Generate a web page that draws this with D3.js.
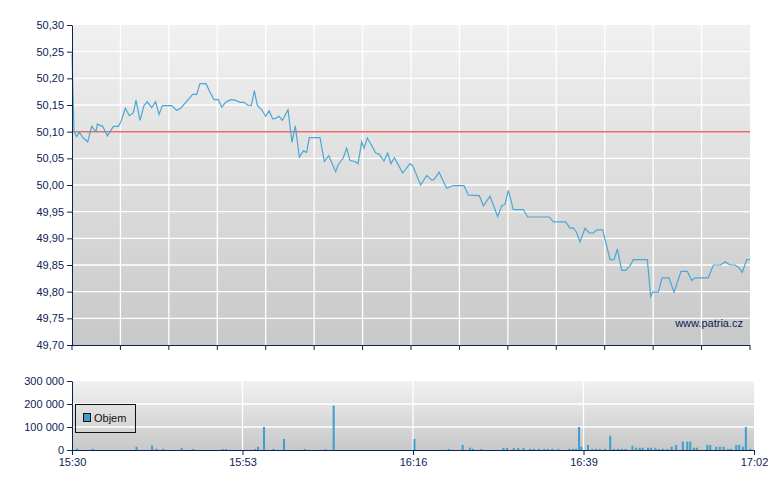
<!DOCTYPE html>
<html><head><meta charset="utf-8">
<script src="https://cdn.jsdelivr.net/npm/d3@7"></script>
<style>body{margin:0;background:#fff}text{font-family:"Liberation Sans",Arial,sans-serif}</style>
</head><body><div id="chart"></div>
<script>
// minutes after 15:30 and price
const priceMin = [0,0.27,0.63,0.99,1.54,2.13,2.67,3.26,3.44,4.16,4.8,5.61,6.29,6.65,7.24,7.78,8.32,8.68,9.23,9.77,10.22,10.81,11.35,11.81,12.26,12.85,13.52,14.2,14.75,15.56,16.37,16.92,17.37,18.18,18.73,19.27,19.86,20.31,20.85,21.53,22.12,22.8,23.34,23.84,24.33,24.74,25.15,25.74,26.28,26.73,27.23,27.64,28.09,28.54,29.31,29.85,30.3,30.85,31.39,31.84,32.2,33.65,34.24,34.83,35.78,36.14,36.82,37.27,37.72,38.36,38.81,39.31,39.62,40.07,40.66,41.21,41.66,42.34,42.83,43.29,43.74,44.15,44.87,45.87,46.23,47.31,48.13,48.81,49.12,49.8,50.84,51.75,52.43,53.19,53.78,55.27,55.82,56.72,57.76,58.31,58.76,59.21,59.89,61.25,61.83,64.77,65.32,66.99,67.58,68.03,68.48,68.93,69.61,70.16,70.74,71.2,72.01,73.01,73.55,74,74.59,75.13,75.72,76.17,78.07,78.52,78.79,79.56,80.06,81.01,81.69,82.64,83.5,84.09,84.54,86.35,87.03,88.02,88.61,89.29,89.97,90.42,90.96,91.55,92];
const priceVal = [50.245,50.10,50.091,50.099,50.088,50.081,50.11,50.10,50.114,50.11,50.092,50.11,50.11,50.119,50.144,50.13,50.135,50.159,50.121,50.149,50.156,50.145,50.156,50.132,50.149,50.149,50.149,50.14,50.144,50.157,50.17,50.17,50.19,50.19,50.174,50.16,50.16,50.146,50.155,50.16,50.159,50.155,50.155,50.15,50.149,50.177,50.149,50.141,50.129,50.139,50.124,50.125,50.129,50.121,50.141,50.08,50.111,50.052,50.064,50.061,50.089,50.089,50.044,50.055,50.025,50.039,50.051,50.069,50.046,50.044,50.04,50.081,50.069,50.088,50.074,50.06,50.058,50.045,50.06,50.04,50.051,50.041,50.0225,50.04,50.036,50.0,50.018,50.009,50.01,50.024,49.994,49.999,49.999,49.999,49.981,49.98,49.961,49.979,49.941,49.961,49.964,49.99,49.954,49.954,49.94,49.94,49.931,49.931,49.919,49.919,49.911,49.893,49.919,49.91,49.91,49.916,49.916,49.86,49.86,49.88,49.84,49.84,49.849,49.86,49.86,49.791,49.799,49.799,49.826,49.826,49.799,49.838,49.838,49.821,49.826,49.826,49.85,49.85,49.856,49.85,49.85,49.846,49.836,49.86,49.86];
const refPrice = 50.10;
const volMin = [0.7,2.8,8.7,10.8,11.4,12.3,14.8,16.3,20.3,20.8,24.7,25.1,25.9,27.2,28.6,31.4,34.2,35.3,46.2,50.8,52.7,53.7,54.1,55.2,58.2,58.7,59.6,60.2,60.9,61.8,62.3,63.0,63.7,64.2,64.8,65.6,67.1,67.6,68.0,68.4,68.7,69.6,70.2,70.7,71.2,71.9,72.6,73.1,73.7,74.2,74.7,75.6,76.1,76.6,77.0,77.7,78.1,78.7,79.2,79.7,80.3,80.9,81.5,82.4,83.0,83.4,83.9,84.3,85.7,86.1,86.9,87.4,87.9,88.5,88.9,89.6,90.0,90.5,90.9,91.5];
const volVal = [6000,5000,14000,19000,5000,5000,9000,4000,4000,4000,4000,14000,100000,5000,48000,4000,3000,193000,48000,4000,22000,10000,5000,4000,9000,9000,9000,9000,9000,5000,5000,5000,5000,5000,5000,5000,5000,5000,5000,100000,14000,22000,5000,5000,5000,5000,62000,5000,5000,5000,5000,18000,10000,10000,10000,10000,10000,10000,4000,5000,5000,14000,22000,36000,36000,36000,10000,10000,22000,22000,14000,14000,14000,5000,5000,22000,22000,14000,100000,5000];
const priceTicks = [49.70,49.75,49.80,49.85,49.90,49.95,50.00,50.05,50.10,50.15,50.20,50.25,50.30];
const volTicks = [0,100000,200000,300000];
const timeLabels = ["15:30","15:53","16:16","16:39","17:02"];

const navy = "#0c2355", lineCol = "#4aa8d4";
const t0 = new Date(2024,0,1,15,30), t1 = new Date(2024,0,1,17,2);
const tm = m => new Date(+t0 + m*60000);
const fmt = d3.format(",.2f");
const czNum = v => fmt(v).replace(".", "#").replace(/,/g," ").replace("#", ",");

const svg = d3.select("#chart").append("svg").attr("width",780).attr("height",490);
const defs = svg.append("defs");
const g = defs.append("linearGradient").attr("id","bg").attr("x1",0).attr("y1",0).attr("x2",0).attr("y2",1);
g.append("stop").attr("offset","0%").attr("stop-color","#f1f1f1");
g.append("stop").attr("offset","100%").attr("stop-color","#c8c8c8");

// price chart
const P = {l:72, r:750, t:25, b:345};
const x = d3.scaleTime().domain([t0,t1]).range([P.l,P.r]);
const y = d3.scaleLinear().domain([49.70,50.30]).range([P.b,P.t]);
svg.append("rect").attr("x",P.l).attr("y",P.t).attr("width",P.r-P.l).attr("height",P.b-P.t).attr("fill","url(#bg)");
const gx = d3.range(15).map(i => P.l + i*(P.r-P.l)/14);
svg.append("g").selectAll("line").data(gx.slice(1,-1)).join("line")
  .attr("x1",d=>d).attr("x2",d=>d).attr("y1",P.t).attr("y2",P.b).attr("stroke","#fff").attr("stroke-width",1.3);
svg.append("g").selectAll("line").data(priceTicks.slice(1,-1)).join("line")
  .attr("x1",P.l).attr("x2",P.r).attr("y1",d=>y(d)).attr("y2",d=>y(d)).attr("stroke","#fff").attr("stroke-width",1.3);
svg.append("line").attr("x1",P.l).attr("x2",P.r).attr("y1",y(refPrice)).attr("y2",y(refPrice)).attr("stroke","#ea6b6b").attr("stroke-width",1.5);
svg.append("path").datum(priceMin.map((m,i)=>[tm(m),priceVal[i]])).attr("fill","none").attr("stroke",lineCol).attr("stroke-width",1.2)
  .attr("d", d3.line().x(d=>x(d[0])).y(d=>y(d[1])));
svg.append("g").attr("transform",`translate(${P.l},0)`)
  .call(d3.axisLeft(y).tickValues(priceTicks).tickFormat(czNum).tickSize(5).tickSizeOuter(0));
svg.append("g").selectAll("line").data(gx).join("line")
  .attr("x1",d=>d).attr("x2",d=>d).attr("y1",P.b).attr("y2",P.b+5).attr("stroke",navy);
svg.append("line").attr("x1",P.l).attr("x2",P.r).attr("y1",P.b+0.5).attr("y2",P.b+0.5).attr("stroke",navy);
svg.append("text").attr("x",743).attr("y",327).attr("text-anchor","end").attr("font-size",11).attr("fill",navy).text("www.patria.cz");

// volume chart
const V = {l:72, r:754, t:381, b:450};
const xv = d3.scaleTime().domain([t0,t1]).range([V.l,V.r]);
const yv = d3.scaleLinear().domain([0,300000]).range([V.b,V.t]);
svg.append("rect").attr("x",V.l).attr("y",V.t).attr("width",V.r-V.l).attr("height",V.b-V.t).attr("fill","url(#bg)");
const labTimes = timeLabels.map((s,i)=>tm(i*23));
svg.append("g").selectAll("line").data(labTimes.slice(1,-1)).join("line")
  .attr("x1",d=>xv(d)).attr("x2",d=>xv(d)).attr("y1",V.t).attr("y2",V.b).attr("stroke","#fff").attr("stroke-width",1.3);
svg.append("g").selectAll("line").data(volTicks.slice(1,-1)).join("line")
  .attr("x1",V.l).attr("x2",V.r).attr("y1",d=>yv(d)).attr("y2",d=>yv(d)).attr("stroke","#fff").attr("stroke-width",1.3);
svg.append("g").selectAll("rect").data(volMin.map((m,i)=>[tm(m),volVal[i]])).join("rect")
  .attr("x",d=>xv(d[0])-1).attr("width",2).attr("y",d=>yv(d[1])).attr("height",d=>V.b-yv(d[1])).attr("fill","#3d9fd0");
svg.append("g").attr("transform",`translate(${V.l},0)`)
  .call(d3.axisLeft(yv).tickValues(volTicks).tickFormat(v=>d3.format(",")(v).replace(/,/g," ")).tickSize(5).tickSizeOuter(0));
svg.append("g").attr("transform",`translate(0,${V.b})`)
  .call(d3.axisBottom(xv).tickValues(labTimes).tickFormat((d,i)=>timeLabels[i]).tickSize(5).tickSizeOuter(0));
svg.selectAll(".tick text").attr("font-size",11).attr("fill",navy).attr("font-family","Liberation Sans, Arial, sans-serif");
svg.selectAll(".domain, .tick line").attr("stroke",navy);

// legend
svg.append("rect").attr("x",75.5).attr("y",404.5).attr("width",60).attr("height",28).attr("fill","none").attr("stroke","#111");
svg.append("rect").attr("x",83.5).attr("y",413.5).attr("width",7).attr("height",8).attr("fill","#3d9fd0").attr("stroke","#111");
svg.append("text").attr("x",94).attr("y",422).attr("font-size",11).attr("fill","#111").text("Objem");
</script></body></html>
